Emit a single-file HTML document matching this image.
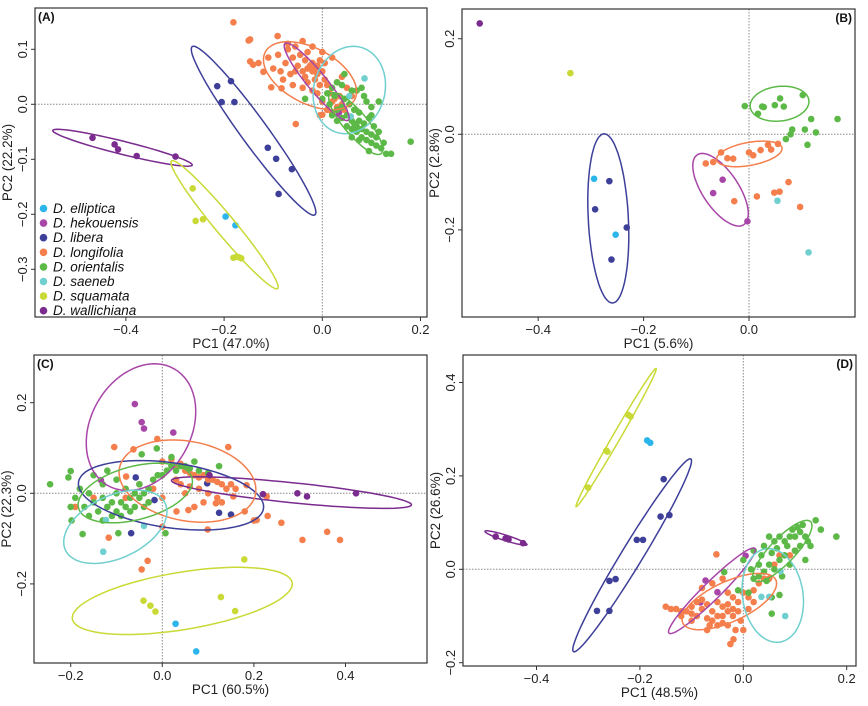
<!DOCTYPE html>
<html><head><meta charset="utf-8"><style>
html,body{margin:0;padding:0;background:#fff;}
svg{display:block;font-family:"Liberation Sans",sans-serif;}
</style></head><body>
<svg id="fig" width="868" height="706" viewBox="0 0 868 706"></svg>
<script>
// ---------- data ----------
const speciesNames = ["D. elliptica","D. hekouensis","D. libera","D. longifolia","D. orientalis","D. saeneb","D. squamata","D. wallichiana"];
const speciesColors = ["#2bb5ea","#a846a8","#3d3f99","#f47f4c","#5cb947","#70cfcf","#c9d935","#7a2b8e"];

// Panel A points [PC1, PC2]
const aElliptica = [[-0.197,-0.204],[-0.177,-0.220]];
const aHekouensis = [[0.034,-0.015]];
const aLibera = [[-0.214,0.033],[-0.186,0.042],[-0.205,0.004],[-0.179,0.004],[-0.111,-0.079],[-0.094,-0.099],[-0.062,-0.118],[-0.089,-0.163]];
const aLongifolia = [[-0.181,0.149],[-0.150,0.116],[-0.147,0.118],[-0.091,0.124],[-0.147,0.078],[-0.141,0.072],[-0.120,0.059],[-0.104,0.031],[-0.083,0.029],[-0.054,-0.036],[0.0,-0.019],
[-0.13,0.075],[-0.11,0.085],[-0.10,0.065],[-0.09,0.09],[-0.085,0.06],[-0.08,0.045],[-0.075,0.075],[-0.07,0.10],[-0.065,0.055],[-0.06,0.085],[-0.055,0.105],[-0.05,0.07],[-0.045,0.09],[-0.04,0.06],[-0.035,0.08],[-0.03,0.095],[-0.03,0.065],[-0.025,0.07],[-0.02,0.06],[-0.02,0.075],[-0.015,0.065],[-0.01,0.07],[-0.01,0.055],[-0.005,0.08],[0.0,0.06],[0.005,0.045],[0.01,0.035],[0.015,0.02],[0.02,0.005],[0.025,0.01],[0.03,-0.005],[0.035,0.015],[0.04,0.0],[0.045,-0.01],[-0.06,0.035],[-0.04,0.03],[-0.03,0.04],[-0.02,0.025],[-0.01,0.02],[0.0,0.005],[0.01,-0.01],[-0.005,-0.02],[0.02,-0.015],[0.03,0.04],[0.04,0.05],[0.05,0.03],[0.06,0.015],[-0.07,0.11],[-0.04,0.115],[-0.02,0.105],[0.0,0.095],[0.02,0.085],[-0.015,0.045],[-0.005,0.035],[0.005,0.075],[-0.035,0.05],[-0.055,0.06]];
const aOrientalis = [[0.0,0.01],[0.01,0.02],[0.02,0.03],[0.03,0.04],[0.04,0.035],[0.045,0.055],[0.06,0.025],[0.07,0.025],[0.08,0.03],[0.085,0.015],[0.09,0.005],[0.115,0.005],[0.1,-0.005],[0.02,-0.02],[0.03,-0.03],[0.04,-0.025],[0.05,-0.04],[0.05,-0.02],[0.06,-0.03],[0.06,-0.045],[0.065,-0.035],[0.07,-0.04],[0.07,-0.05],[0.075,-0.03],[0.08,-0.045],[0.08,-0.06],[0.085,-0.035],[0.09,-0.05],[0.09,-0.065],[0.095,-0.025],[0.1,-0.055],[0.1,-0.07],[0.105,-0.04],[0.11,-0.06],[0.11,-0.075],[0.115,-0.05],[0.12,-0.08],[0.125,-0.07],[0.13,-0.09],[0.14,-0.09],[0.18,-0.068],[0.015,0.0],[0.03,-0.01],[0.04,-0.005],[0.055,0.0],[0.065,-0.01],[0.045,0.01],[0.075,-0.015],[0.1,-0.02],[0.06,-0.06],[0.075,-0.065],[0.095,-0.085],[0.025,0.015],[-0.035,0.01]];
const aSaeneb = [[0.086,0.047],[0.055,0.015],[0.058,-0.022]];
const aSquamata = [[-0.264,-0.153],[-0.258,-0.212],[-0.243,-0.209],[-0.181,-0.279],[-0.174,-0.277],[-0.170,-0.278],[-0.165,-0.280]];
const aWallichiana = [[-0.468,-0.061],[-0.423,-0.073],[-0.416,-0.082],[-0.378,-0.094],[-0.299,-0.095]];
// Panel A ellipses: [species index, cx, cy, ax, ay, bx, by]
const aEllipses = [[7,-0.407,-0.079,0.142,-0.0315,-0.0034,-0.0115],[6,-0.199,-0.219,0.108,-0.116,0.0156,0.0115],[2,-0.140,-0.048,0.125,-0.153,0.0217,0.0145],[3,-0.025,0.052,0.0915,-0.0424,-0.025,-0.045],[1,-0.0115,0.041,0.0644,-0.0697,0.0149,0.0109],[5,0.055,0.026,0.0237,0.0776,0.0698,-0.017],[4,0.068,-0.035,0.052,-0.0545,0.018,0.014]];

// Panel B
const bElliptica = [[-0.294,-0.093],[-0.253,-0.210]];
const bHekouensis = [[-0.050,-0.095],[-0.068,-0.123],[-0.003,-0.182]];
const bLibera = [[-0.265,-0.098],[-0.292,-0.157],[-0.232,-0.195],[-0.261,-0.262]];
const bLongifolia = [[-0.082,-0.061],[-0.068,-0.058],[-0.053,-0.038],[-0.041,-0.050],[-0.030,-0.051],[0.0,-0.038],[0.008,-0.044],[0.022,-0.033],[0.036,-0.022],[0.042,-0.032],[0.055,-0.020],[-0.028,-0.140],[0.015,-0.130],[0.048,-0.122],[0.058,-0.120],[0.075,-0.100],[0.097,-0.152]];
const bOrientalis = [[-0.008,0.059],[0.017,0.043],[0.025,0.058],[0.028,0.057],[0.049,0.061],[0.059,0.075],[0.066,0.058],[0.102,0.082],[0.118,0.032],[0.168,0.032],[0.082,0.010],[0.106,0.010],[0.127,0.004],[0.079,0.0],[0.070,-0.010],[0.111,-0.022]];
const bSaeneb = [[0.054,-0.139],[0.113,-0.247]];
const bSquamata = [[-0.339,0.128]];
const bWallichiana = [[-0.511,0.232]];
const bEllipses = [[2,-0.267,-0.176,-0.0082,0.177,0.038,0.002],[1,-0.054,-0.116,0.0443,-0.073,0.0285,0.021],[3,0.0006,-0.041,0.062,0.0125,0.0038,-0.0237],[4,0.058,0.064,0.0557,0.007,0.0038,-0.036]];

// Panel C
const cElliptica = [[0.029,-0.288],[0.074,-0.349]];
const cHekouensis = [[-0.060,0.197],[-0.045,0.157],[-0.040,0.143],[0.024,0.134],[-0.134,0.029]];
const cLibera = [[-0.058,0.035],[-0.017,-0.015],[-0.068,-0.088],[0.124,-0.043],[0.150,-0.047],[0.098,0.022]];
const cLongifolia = [[-0.105,0.102],[-0.063,0.097],[-0.011,0.120],[0.144,0.102],[-0.079,0.037],[0.184,0.018],[0.26,-0.065],[0.36,-0.085],[0.306,-0.103],[0.388,-0.103],[0.099,-0.080],[0.206,-0.059],[-0.032,-0.149],[-0.045,-0.168],[-0.117,-0.098],[0.0,-0.074],[0.031,-0.040],[0.057,-0.037],[0.117,-0.022],[0.155,-0.007],[0.228,-0.007],
[0.0,0.07],[0.02,0.075],[0.03,0.06],[0.04,0.065],[0.05,0.05],[0.06,0.045],[0.07,0.04],[0.08,0.035],[0.09,0.04],[0.1,0.03],[0.11,0.03],[0.12,0.025],[0.13,0.02],[0.14,0.01],[0.16,0.01],[0.04,0.02],[0.05,0.0],[0.06,0.015],[0.08,0.01],[0.1,0.0],[0.12,-0.01],[0.03,0.03],[-0.02,0.01],[-0.05,0.02],[-0.08,-0.01],[-0.03,-0.02],[0.0,-0.01],[0.07,-0.03],[0.09,-0.02],[0.13,-0.02],[0.15,0.02],[0.18,-0.04],[0.2,-0.06],[0.23,-0.05],[-0.19,-0.03],[-0.15,-0.01]];
const cOrientalis = [[-0.245,0.020],[-0.205,0.035],[-0.2,0.049],[-0.198,-0.060],[-0.174,-0.090],[-0.096,-0.088],[0.007,-0.088],[-0.012,0.099],[0.124,0.060],[-0.045,0.086],
[-0.19,-0.01],[-0.18,0.01],[-0.17,-0.03],[-0.16,0.0],[-0.15,-0.02],[-0.14,-0.04],[-0.13,0.02],[-0.13,-0.01],[-0.12,-0.03],[-0.11,-0.02],[-0.1,0.0],[-0.1,-0.04],[-0.09,-0.02],[-0.09,-0.05],[-0.08,0.01],[-0.08,-0.03],[-0.07,-0.04],[-0.07,-0.01],[-0.06,0.0],[-0.06,-0.03],[-0.05,0.02],[-0.05,-0.01],[-0.04,0.0],[-0.04,-0.03],[-0.03,0.01],[-0.03,-0.02],[-0.02,0.03],[-0.01,0.04],[0.0,0.04],[0.01,0.05],[0.02,0.06],[0.03,0.05],[0.05,0.06],[0.06,0.055],[0.07,0.07],[0.08,0.05],[0.1,0.045],[-0.12,0.05],[-0.15,0.04],[-0.1,0.03],[-0.13,-0.06],[-0.11,-0.05],[-0.2,-0.03],[-0.16,-0.05],[0.02,0.08],[0.04,0.06]];
const cSaeneb = [[-0.123,-0.059],[-0.040,-0.072],[-0.129,-0.129]];
const cSquamata = [[-0.041,-0.237],[-0.026,-0.248],[-0.015,-0.261],[0.128,-0.229],[0.159,-0.260],[0.179,-0.146]];
const cWallichiana = [[0.103,0.040],[0.220,-0.002],[0.295,0.0],[0.316,-0.007],[0.423,0.0]];
const cEllipses = [[1,-0.0465,0.146,0.0727,0.1287,0.095,-0.055],[7,0.282,0.0015,0.262,-0.027,-0.002,-0.022],[2,0.019,-0.0044,0.202,-0.029,-0.010,-0.071],[3,0.055,0.027,0.149,-0.026,-0.0116,-0.087],[4,-0.059,0.0007,0.124,0.033,0.0145,-0.057],[5,-0.1025,-0.074,0.109,0.0515,0.029,-0.0625],[6,0.0436,-0.2375,0.24,0.040,0.010,-0.0625]];

// Panel D
const dElliptica = [[-0.186,0.276],[-0.180,0.271]];
const dHekouensis = [[0.0045,0.029],[-0.073,-0.024],[-0.050,-0.049],[-0.083,-0.071]];
const dLibera = [[-0.154,0.193],[-0.160,0.113],[-0.143,0.116],[-0.206,0.063],[-0.194,0.063],[-0.259,-0.025],[-0.247,-0.021],[-0.283,-0.089],[-0.259,-0.089]];
const dLongifolia = [[-0.052,0.032],[-0.019,-0.15],[-0.14,-0.085],[-0.13,-0.085],[-0.12,-0.09],[-0.12,-0.1],[-0.11,-0.09],[-0.1,-0.08],[-0.1,-0.095],[-0.09,-0.07],[-0.09,-0.1],[-0.08,-0.065],[-0.08,-0.085],[-0.07,-0.075],[-0.07,-0.105],[-0.06,-0.09],[-0.06,-0.11],[-0.05,-0.07],[-0.05,-0.1],[-0.05,-0.12],[-0.04,-0.08],[-0.04,-0.1],[-0.04,-0.115],[-0.03,-0.075],[-0.03,-0.09],[-0.03,-0.12],[-0.02,-0.06],[-0.02,-0.085],[-0.02,-0.1],[-0.015,-0.13],[-0.01,-0.07],[-0.01,-0.09],[-0.005,-0.11],[0.0,-0.05],[0.0,-0.13],[0.01,-0.06],[0.01,-0.085],[0.02,-0.07],[0.02,-0.045],[0.03,-0.03],[0.04,-0.02],[0.05,-0.02],[0.06,0.01],[0.07,0.03],[0.09,0.03],[0.1,0.04],[-0.15,-0.08],[-0.08,-0.04],[-0.06,-0.03],[-0.04,-0.02],[-0.03,-0.05],[-0.1,-0.11],[-0.07,-0.13],[-0.065,-0.12],[-0.025,-0.16]];
const dOrientalis = [[0.0,0.02],[0.01,-0.05],[0.015,0.0],[0.02,-0.02],[0.03,-0.015],[0.03,0.01],[0.035,0.03],[0.04,-0.005],[0.045,-0.025],[0.05,0.01],[0.055,0.035],[0.06,0.06],[0.06,0.0],[0.065,0.045],[0.07,0.07],[0.07,0.02],[0.075,-0.015],[0.08,0.03],[0.08,0.06],[0.085,0.05],[0.09,0.07],[0.09,0.01],[0.095,0.085],[0.1,0.04],[0.1,0.07],[0.105,0.09],[0.11,0.05],[0.11,0.08],[0.115,0.095],[0.12,0.02],[0.12,0.07],[0.125,0.06],[0.13,0.05],[0.14,0.105],[0.15,0.085],[0.18,0.07],[0.055,-0.06],[0.07,-0.055],[0.055,-0.095],[-0.01,-0.045],[0.04,0.05],[0.05,0.07],[-0.037,-0.006],[0.02,0.04]];
const dSaeneb = [[0.035,-0.059],[0.050,-0.059],[0.072,-0.004],[0.081,-0.100]];
const dSquamata = [[-0.300,0.175],[-0.265,0.254],[-0.263,0.252],[-0.223,0.331],[-0.218,0.327]];
const dWallichiana = [[-0.479,0.070],[-0.460,0.066],[-0.454,0.064],[-0.426,0.056]];
const dEllipses = [[7,-0.459,0.067,0.0406,-0.0143,-0.0013,-0.0057],[6,-0.246,0.282,0.0774,0.148,0.0065,-0.0043],[2,-0.215,0.030,0.1135,0.2064,0.0174,-0.012],[1,-0.0606,-0.046,0.0832,0.0907,0.012,-0.0136],[3,-0.027,-0.069,0.090,0.046,0.016,-0.039],[5,0.057,-0.056,-0.013,0.100,0.058,0.0086],[4,0.0755,0.039,0.0548,0.0629,0.0168,-0.0193]];

// tick labels
const aXTicks = [-0.4,-0.2,0.0,0.2], aYTicks = [0.1,0.0,-0.1,-0.2,-0.3];
const bXTicks = [-0.4,-0.2,0.0], bYTicks = [0.2,0.0,-0.2];
const cXTicks = [-0.2,0.0,0.2,0.4], cYTicks = [0.2,0.0,-0.2];
const dXTicks = [-0.4,-0.2,0.0,0.2], dYTicks = [0.4,0.2,0.0,-0.2];

// ---------- layout ----------
const panels = [
 {id:"a",tag:"(A)",tagRight:false,L:35,R:427,T:8,B:317,x0:322.3,xs:491,y0:104.3,ys:550,xt:aXTicks,yt:aYTicks,xl:"PC1 (47.0%)",yl:"PC2 (22.2%)",
  pts:[aElliptica,aHekouensis,aLibera,aLongifolia,aOrientalis,aSaeneb,aSquamata,aWallichiana],ell:aEllipses,legend:true},
 {id:"b",tag:"(B)",tagRight:true,L:462,R:855,T:9,B:317,x0:749,xs:527,y0:134.3,ys:478,xt:bXTicks,yt:bYTicks,xl:"PC1 (5.6%)",yl:"PC2 (2.8%)",
  pts:[bElliptica,bHekouensis,bLibera,bLongifolia,bOrientalis,bSaeneb,bSquamata,bWallichiana],ell:bEllipses},
 {id:"c",tag:"(C)",tagRight:false,L:34,R:427,T:355,B:663,x0:162.3,xs:458,y0:493.3,ys:453,xt:cXTicks,yt:cYTicks,xl:"PC1 (60.5%)",yl:"PC2 (22.3%)",
  pts:[cElliptica,cHekouensis,cLibera,cLongifolia,cOrientalis,cSaeneb,cSquamata,cWallichiana],ell:cEllipses},
 {id:"d",tag:"(D)",tagRight:true,L:463,R:856,T:355,B:666,x0:743.3,xs:517,y0:569.3,ys:467,xt:dXTicks,yt:dYTicks,xl:"PC1 (48.5%)",yl:"PC2 (26.6%)",
  pts:[dElliptica,dHekouensis,dLibera,dLongifolia,dOrientalis,dSaeneb,dSquamata,dWallichiana],ell:dEllipses}
];

const NS="http://www.w3.org/2000/svg";
const svg=document.getElementById("fig");
function mk(tag,attrs,parent){const e=document.createElementNS(NS,tag);for(const k in attrs)e.setAttribute(k,attrs[k]);(parent||svg).appendChild(e);return e;}
function fmt(v){const s=Math.abs(v).toFixed(1);return (v<-1e-9?"\u2212":"")+s;}

panels.forEach(p=>{
  const X=v=>p.x0+v*p.xs, Y=v=>p.y0-v*p.ys;
  const g=mk("g",{});
  
  
  const clipId="clip-"+p.id;
  const cp=mk("clipPath",{id:clipId},g);
  mk("rect",{x:p.L,y:p.T,width:p.R-p.L,height:p.B-p.T},cp);
  const zx=mk("line",{x1:X(0),x2:X(0),y1:p.T,y2:p.B,stroke:"#888","stroke-width":1,"stroke-dasharray":"1.5,1.5"},g);
  
  
  const zy=mk("line",{x1:p.L,x2:p.R,y1:Y(0),y2:Y(0),stroke:"#888","stroke-width":1,"stroke-dasharray":"1.5,1.5"},g);
  
  
  const pg=mk("g",{"clip-path":"url(#"+clipId+")"},g);
  p.pts.forEach((arr,si)=>{
    arr.forEach(pt=>{
      const c=mk("circle",{cx:X(pt[0]),cy:Y(pt[1]),r:3.3,fill:speciesColors[si]},pg);
      
      
    });
  });
  p.ell.forEach(e=>{
    let d="";
    for(let i=0;i<=72;i++){const t=i/72*2*Math.PI;
      const vx=e[1]+e[3]*Math.cos(t)+e[5]*Math.sin(t), vy=e[2]+e[4]*Math.cos(t)+e[6]*Math.sin(t);
      d+=(i?"L":"M")+X(vx).toFixed(1)+","+Y(vy).toFixed(1);}
    const el=mk("path",{d:d+"Z",fill:"none",stroke:speciesColors[e[0]],"stroke-width":1.5},pg);
    
    
  });
  const fr=mk("rect",{x:p.L,y:p.T,width:p.R-p.L,height:p.B-p.T,fill:"none",stroke:"#333","stroke-width":1.2},g);
  
  
  p.xt.forEach(v=>{
    mk("line",{x1:X(v),x2:X(v),y1:p.B,y2:p.B+4,stroke:"#333"},g);
    const t=mk("text",{x:X(v),y:p.B+17,"text-anchor":"middle","font-size":13,fill:"#222"},g);
    t.textContent=fmt(v);
    
    
  });
  p.yt.forEach(v=>{
    mk("line",{x1:p.L-4,x2:p.L,y1:Y(v),y2:Y(v),stroke:"#333"},g);
    const tx=p.L-8, ty=Y(v);
    const t=mk("text",{x:tx,y:ty,"text-anchor":"middle","font-size":13,fill:"#222",transform:"rotate(-90 "+tx+" "+ty+")"},g);
    t.textContent=fmt(v);
    
    
  });
  const xt=mk("text",{x:(p.L+p.R)/2,y:p.B+31,"text-anchor":"middle","font-size":13.5,fill:"#222"},g);
  xt.textContent=p.xl;
  
  
  const yx=p.L-23, yy=(p.T+p.B)/2;
  const yt=mk("text",{x:yx,y:yy,"text-anchor":"middle","font-size":13.5,fill:"#222",transform:"rotate(-90 "+yx+" "+yy+")"},g);
  yt.textContent=p.yl;
  
  
  const tg=mk("text",{x:p.tagRight?p.R-3:p.L+3,y:p.T+13,"text-anchor":p.tagRight?"end":"start","font-size":12,"font-weight":"bold",fill:"#111"},g);
  tg.textContent=p.tag;
  
  
  if(p.legend){
    const lg=mk("g",{},g);
    
    
    speciesNames.forEach((n,i)=>{
      const y=208.5+i*14.6;
      const c=mk("circle",{cx:43.5,cy:y,r:3.8,fill:speciesColors[i]},lg);
      
      
      const t=mk("text",{x:53,y:y+4.5,"font-size":13.5,"font-style":"italic",fill:"#111"},lg);
      t.textContent=n;
      
      
    });
  }
});
</script>
</body></html>
